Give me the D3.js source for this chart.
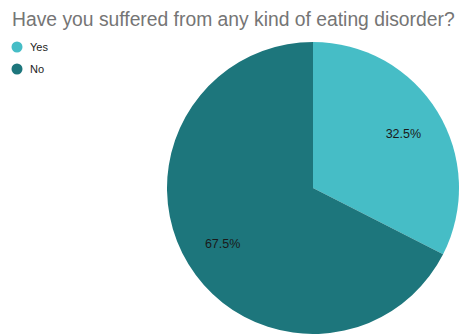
<!DOCTYPE html>
<html><head><meta charset="utf-8">
<script src="https://cdn.jsdelivr.net/npm/d3@7"></script>
<style>html,body{margin:0;padding:0;background:#fff;overflow:hidden}</style>
</head><body><svg id="c" width="460" height="334"></svg>
<script>
const categories = ["Yes", "No"];
const values = [32.5, 67.5];
const colors = ["#46bdc6", "#1d767c"];
const title = "Have you suffered from any kind of eating disorder?";

const svg = d3.select("#c");
svg.append("rect").attr("width",460).attr("height",334).attr("fill","#fff");

const cx = 313, cy = 188, r = 146;
const pie = d3.pie().sort(null).value(d => d.v);
const arcs = pie(categories.map((c,i)=>({c, v: values[i]})));
const arc = d3.arc().innerRadius(0).outerRadius(r);
const labelArc = d3.arc().innerRadius(106).outerRadius(106);
const color = d3.scaleOrdinal().domain(categories).range(colors);

const g = svg.append("g").attr("transform", `translate(${cx},${cy})`);
g.selectAll("path").data(arcs).join("path")
  .attr("d", arc).attr("fill", d => color(d.data.c));
g.selectAll("text").data(arcs).join("text")
  .attr("transform", d => `translate(${labelArc.centroid(d)})`)
  .attr("text-anchor","middle").attr("dy","0.4em")
  .attr("font-family","Arial, 'Liberation Sans', sans-serif").attr("font-size",12.5)
  .attr("fill","#1a1a1a")
  .text(d => d.data.v.toFixed(1) + "%");

const t = svg.append("text").attr("x",12).attr("y",26)
  .attr("font-family","Arial, 'Liberation Sans', sans-serif").attr("font-size",19)
  .attr("fill","#757575")
  .text(title);
const w = t.node().getComputedTextLength();
t.attr("font-size", Math.min(19.5, 19 * 443 / w));

const leg = svg.append("g");
categories.forEach((c,i)=>{
  const y = 47 + i*22;
  leg.append("circle").attr("cx",17).attr("cy",y).attr("r",5.5).attr("fill",color(c));
  leg.append("text").attr("x",30).attr("y",y).attr("dy","0.35em")
    .attr("font-family","Arial, 'Liberation Sans', sans-serif").attr("font-size",11)
    .attr("fill","#222").text(c);
});
</script></body></html>
